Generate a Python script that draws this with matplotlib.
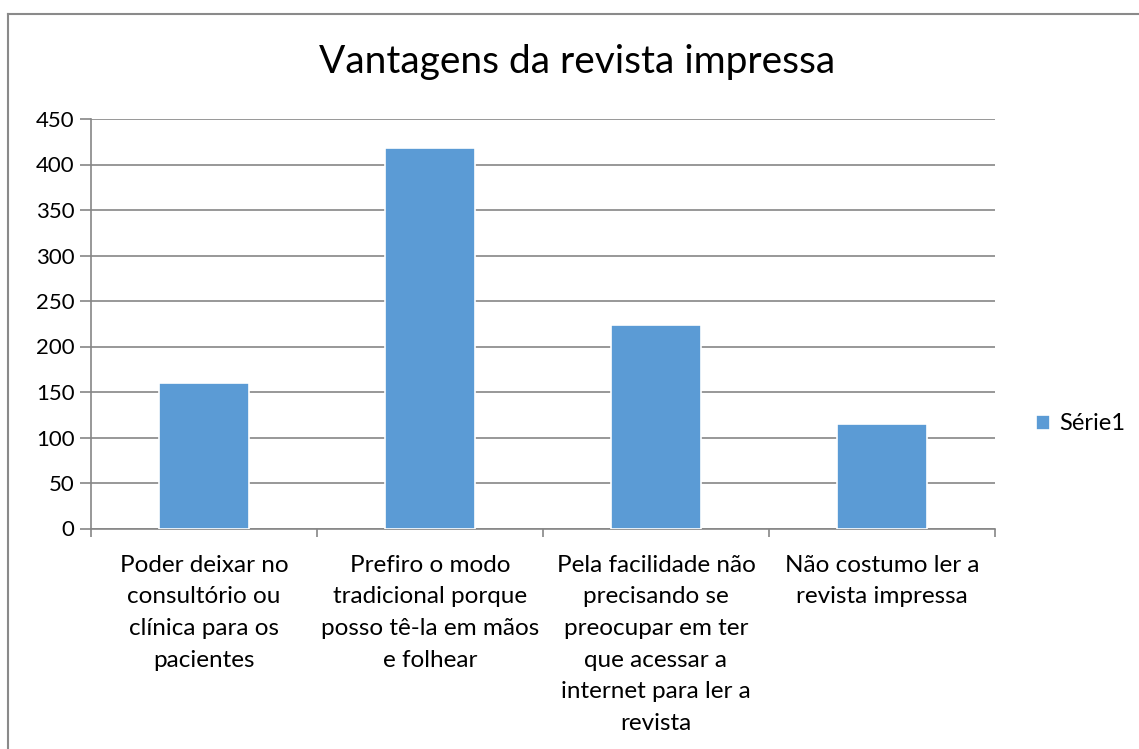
import matplotlib.pyplot as plt
from matplotlib.lines import Line2D

categories = [
    "Poder deixar no\nconsultório ou\nclínica para os\npacientes",
    "Prefiro o modo\ntradicional porque\nposso tê-la em mãos\ne folhear",
    "Pela facilidade não\nprecisando se\npreocupar em ter\nque acessar a\ninternet para ler a\nrevista",
    "Não costumo ler a\nrevista impressa",
]
values = [160, 418, 224, 115]
series_name = "Série1"
yticks = [0, 50, 100, 150, 200, 250, 300, 350, 400, 450]

plt.rcParams['font.family'] = ['Lato', 'DejaVu Sans']
grey = '#868686'
blue = '#5B9BD5'

fig = plt.figure(figsize=(11.39, 7.49), dpi=100)
ax = fig.add_axes([91 / 1139, 1 - 528.5 / 749, (995 - 91) / 1139, (528.5 - 119) / 749])

x = list(range(len(values)))
ax.bar(x, values, width=0.4, color=blue, edgecolor='white', linewidth=1.2,
       label=series_name, zorder=3)

ax.set_xlim(-0.5, len(values) - 0.5)
ax.set_ylim(0, 450)
ax.set_yticks(yticks)
ax.tick_params(axis='y', labelsize=16, length=8, color=grey, width=1.2, pad=4)
ax.yaxis.grid(True, color=grey, linewidth=1.2, zorder=0)

ax.set_xticks(x)
ax.set_xticklabels(categories, fontsize=17.5, linespacing=1.62, va='top')
ax.tick_params(axis='x', length=0, pad=19)
ax.set_xticks([i - 0.5 for i in range(len(values) + 1)], minor=True)
ax.tick_params(axis='x', which='minor', length=6, color=grey, width=1.2)

for side in ['top', 'right']:
    ax.spines[side].set_visible(False)
for side in ['left', 'bottom']:
    ax.spines[side].set_color(grey)
    ax.spines[side].set_linewidth(1.2)

fig.text(0.507, 1 - 62 / 749, "Vantagens da revista impressa", fontsize=28,
         ha='center', va='center')

leg = fig.legend(loc='center left', bbox_to_anchor=(1036 / 1139, 1 - 424 / 749),
                 frameon=False, fontsize=17, handlelength=0.6, handleheight=0.6,
                 handletextpad=0.4, borderpad=0, borderaxespad=0)

# chart border
fig.add_artist(Line2D([7.5 / 1139, 7.5 / 1139], [0, 1 - 13.5 / 749], color='#8a8a8a', linewidth=1.5))
fig.add_artist(Line2D([7.5 / 1139, 1], [1 - 13.5 / 749, 1 - 13.5 / 749], color='#8a8a8a', linewidth=1.5))

fig.savefig('out.png', dpi=100)
